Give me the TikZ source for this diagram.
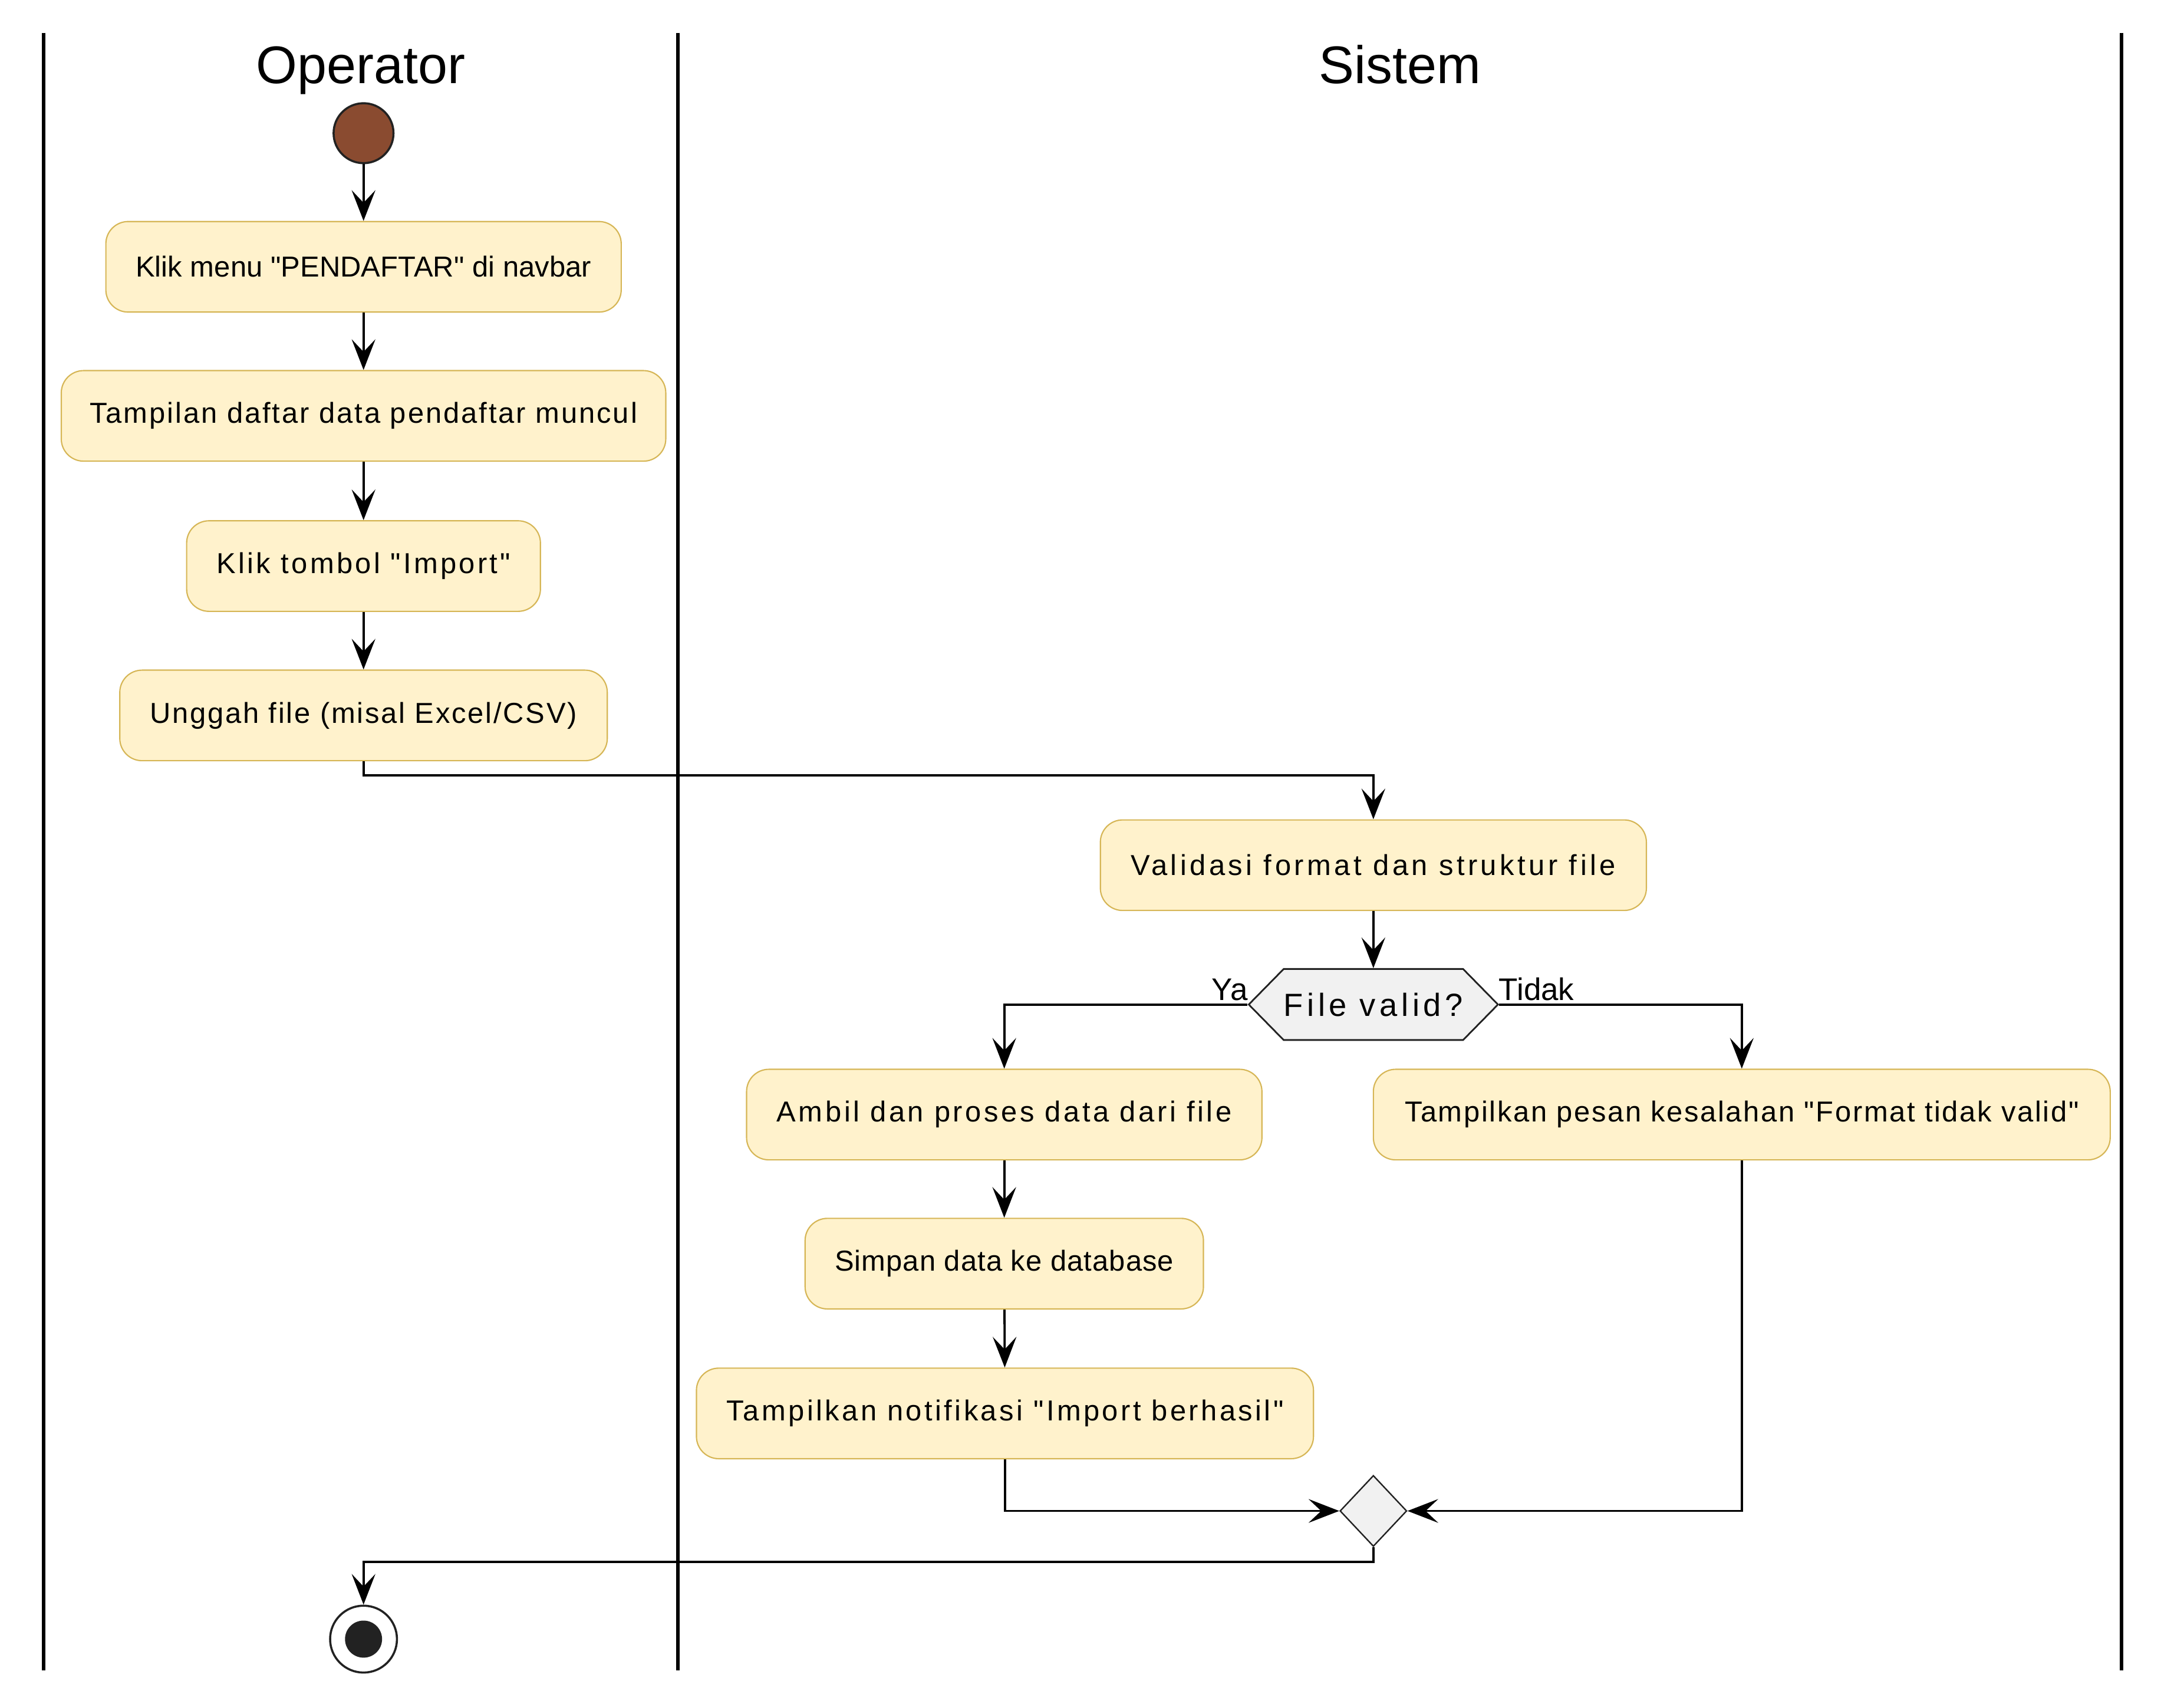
\documentclass[tikz,border=0pt]{standalone}
\usepackage{fontspec}
\setmainfont{Liberation Sans}[Ligatures=TeXOff]
\usetikzlibrary{arrows.meta,shapes.geometric,shapes.symbols}
\definecolor{actfill}{HTML}{FFF2CC}
\definecolor{actline}{HTML}{D6B656}
\definecolor{ink}{HTML}{222222}
\definecolor{startfill}{HTML}{8A4B30}
\definecolor{decfill}{HTML}{F1F1F1}
\newcommand{\ls}[2]{{\addfontfeature{LetterSpace=#1}#2}}
\begin{document}
\begin{tikzpicture}[x=1pt,y=-1pt,
  act/.style={draw=actline,fill=actfill,line width=0.9pt,rounded corners=16pt,
    minimum height=65pt,inner sep=0pt,font=\fontsize{20.7}{24}\selectfont},
  lane/.style={line width=2.6pt,black},
  flow/.style={line width=1.6pt,black,-{Stealth[length=22pt,width=17pt,inset=9pt]}},
  lanetitle/.style={font=\fontsize{38}{44}\selectfont,anchor=base},
  guard/.style={font=\fontsize{22.4}{26}\selectfont,inner sep=0pt},
  startnode/.style={circle,draw=ink,fill=startfill,line width=1.5pt,minimum size=43pt,inner sep=0pt},
  endnode/.style={circle,draw=ink,fill=white,line width=1.5pt,minimum size=48pt,inner sep=0pt},
  decision/.style={shape=signal,signal to=west and east,signal pointer angle=91,
    draw=ink,fill=decfill,line width=1.2pt,minimum width=177pt,minimum height=51pt,
    inner sep=0pt,font=\fontsize{23}{27}\selectfont},
  merge/.style={diamond,draw=ink,fill=decfill,line width=1pt,minimum width=48pt,
    minimum height=51pt,inner sep=0pt}]
\useasboundingbox (0,0) rectangle (1568,1223);

% swimlane borders and titles
\draw[lane] (31.4,23.5) -- (31.4,1199);
\draw[lane] (486.7,23.5) -- (486.7,1199);
\draw[lane] (1523,23.5) -- (1523,1199);
\node[lanetitle] (tOp) at (259,60) {Operator};
\node[lanetitle] (tSys) at (1005,60) {Sistem};

% Operator lane
\node[startnode] (start) at (261,95.6) {};
\node[act,minimum width=370pt] (b1) at (261,191.5) {\ls{0.2}{Klik menu "PENDAFTAR" di navbar}};
\node[act,minimum width=434pt] (b2) at (261,298.5) {\ls{6}{Tampilan daftar data pendaftar muncul}};
\node[act,minimum width=254pt] (b3) at (261,406.3) {\ls{8.7}{Klik tombol "Import"}};
\node[act,minimum width=350pt] (b4) at (261,513.5) {\ls{5.7}{Unggah file (misal Excel/CSV)}};

% Sistem lane
\node[act,minimum width=392pt] (b5) at (986,621) {\ls{11.3}{Validasi format dan struktur file}};
\node[decision] (dec) at (986,721) {\ls{12.2}{File valid?}};
\node[act,minimum width=370pt] (b6) at (721,800) {\ls{9.3}{Ambil dan proses data dari file}};
\node[act,minimum width=286pt] (b7) at (721,907) {\ls{2.2}{Simpan data ke database}};
\node[act,minimum width=443pt] (b8) at (721.5,1014.5) {\ls{9}{Tampilkan notifikasi "Import berhasil"}};
\node[act,minimum width=529pt] (b9) at (1250.5,800) {\ls{5.4}{Tampilkan pesan kesalahan "Format tidak valid"}};
\node[merge] (mg) at (986,1084.5) {};
\node[endnode] (stop) at (261,1176.5) {};
\fill[ink] (stop.center) circle (13.3pt);

% guard labels
\node[guard,anchor=base east] (ya) at (896,718) {Ya};
\node[guard,anchor=base west] (tidak) at (1076,718) {Tidak};

% connectors
\coordinate (j1) at (261,556.5);
\coordinate (j2) at (986,1121);
\draw[flow] (start) -- (b1);
\draw[flow] (b1) -- (b2);
\draw[flow] (b2) -- (b3);
\draw[flow] (b3) -- (b4);
\draw[flow] (b4.south) -- (j1) -| (b5.north);
\draw[flow] (b5) -- (dec.north);
\draw[flow] (dec.west) -| (b6.north);
\draw[flow] (dec.east) -| (b9.north);
\draw[flow] (b6) -- (b7);
\draw[flow] (b7) -- (b8);
\draw[flow] (b8.south) |- (mg.west);
\draw[flow] (b9.south) |- (mg.east);
\draw[flow] (mg.south) -- (j2) -| (stop.north);
\end{tikzpicture}
\end{document}
